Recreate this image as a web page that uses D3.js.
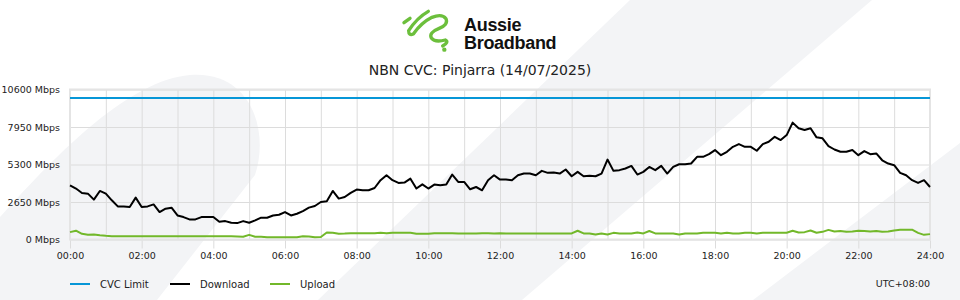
<!DOCTYPE html>
<html>
<head>
<meta charset="utf-8">
<script src="https://cdn.jsdelivr.net/npm/d3@7"></script>
<style>
    body { margin: 0; background: #ffffff; }
    svg { display: block; font-family: 'DejaVu Sans', sans-serif; }
</style>
</head>
<body>
<div id="chart"></div>
<script>
var title = 'NBN CVC: Pinjarra (14/07/2025)';
var timezone = 'UTC+08:00';
var stepMinutes = 10;
var cvcLimit = 10000;
var yTicks = [0, 2650, 5300, 7950, 10600];
var hourLines = d3.range(0, 25);
var xTickHours = [0, 2, 4, 6, 8, 10, 12, 14, 16, 18, 20, 22, 24];
var seriesNames = ['CVC Limit', 'Download', 'Upload'];

// Mbps, one reading every 10 minutes from 00:00 to 24:00
var download = [
    3830, 3600, 3290, 3240, 2815, 3430, 3240, 2770, 2340, 2340,
    2295, 2960, 2295, 2340, 2480, 1940, 2180, 2250, 1700, 1585,
    1420, 1420, 1585, 1585, 1585, 1250, 1300, 1180, 1160, 1300,
    1180, 1350, 1540, 1540, 1700, 1750, 1940, 1700, 1820, 2010,
    2250, 2365, 2650, 2700, 3430, 2890, 3000, 3290, 3525, 3480,
    3480, 3640, 4190, 4540, 4190, 4000, 4020, 4300, 3600, 3900,
    3600, 3880, 3830, 3880, 4590, 4070, 4070, 3550, 3710,
    3480, 4190, 4540, 4235, 4235, 4190, 4540, 4660, 4660, 4540,
    4850, 4710, 4730, 4660, 4945, 4470, 4780, 4470, 4500, 4470,
    4660, 5650, 4850, 4900, 5020, 5200, 4590, 4780, 5130, 4900,
    5200, 4660, 5130, 5320, 5320, 5370, 5840, 5840, 6030, 6320,
    5960, 6200, 6550, 6740, 6550, 6550, 6270, 6740, 6910, 7260,
    7030, 7380, 8260, 7860, 7740, 7860, 7220, 7150, 6600, 6360,
    6200, 6200, 6320, 5960, 6250, 6030, 6080, 5600, 5370, 5250,
    4710, 4540, 4190, 4000, 4190, 3710
];

var upload = [
    520, 620, 400, 330, 360, 300, 260, 234, 234, 234,
    234, 230, 234, 234, 234, 234, 230, 234, 234, 234,
    234, 234, 234, 234, 234, 234, 234, 230, 220, 190,
    330, 190, 200, 165, 165, 165, 165, 165, 165, 230,
    220, 165, 180, 500, 480, 400, 420, 450, 450, 450,
    450, 450, 470, 450, 470, 470, 470, 470, 400, 410,
    410, 450, 450, 450, 450, 420, 420, 420, 430,
    450, 450, 430, 450, 430, 430, 430, 430, 430, 430,
    430, 430, 430, 430, 430, 430, 620, 430, 430, 350,
    430, 350, 470, 430, 430, 430, 500, 430, 600, 430,
    430, 430, 430, 350, 430, 430, 430, 470, 470, 470,
    430, 470, 430, 430, 470, 470, 430, 470, 470, 470,
    470, 480, 620, 500, 520, 640, 480, 540, 680, 560,
    600, 540, 560, 620, 600, 560, 600, 540, 560, 640,
    690, 690, 690, 470, 330, 380
];

var width = 960, height = 300;
var blue = '#0696d7', black = '#000000', green = '#72b82a', logoGreen = '#6cbf3c';
var bgGrey = '#f3f4f6', gridGrey = '#dcdcdc', frameGrey = '#e4e4e4';
var textColor = '#222222';
var labelSize = '9.5px';

var svg = d3.select('#chart').append('svg')
    .attr('width', width)
    .attr('height', height);

// background decoration
var deco = svg.append('g');
deco.append('path')
    .attr('d', 'M0,217 C60,150 130,80 190,75 C250,70 270,130 255,175 L157,300 L0,300 Z')
    .attr('fill', bgGrey);
deco.append('path')
    .attr('d', 'M630,0 L872,0 L522,300 L318,300 Z')
    .attr('fill', bgGrey);
deco.append('path')
    .attr('d', 'M960,143 L960,300 L753,300 Z')
    .attr('fill', bgGrey);

// logo
var logo = svg.append('g').attr('transform', 'translate(396,6) scale(0.3333)');
logo.append('path')
    .attr('d', 'M24,50 L42,37')
    .attr('fill', 'none').attr('stroke', logoGreen)
    .attr('stroke-width', 10).attr('stroke-linecap', 'round');
logo.append('path')
    .attr('d', 'M97,16 Q62,36 38,74 Q38,90 52,84 Q76,50 108,34 Q138,22 150,38 Q158,56 128,68 Q98,80 106,96 Q116,110 148,102 Q160,108 140,120')
    .attr('fill', 'none').attr('stroke', logoGreen)
    .attr('stroke-width', 10).attr('stroke-linecap', 'round').attr('stroke-linejoin', 'round');
logo.append('circle')
    .attr('cx', 145).attr('cy', 131).attr('r', 6.5)
    .attr('fill', logoGreen);

['Aussie', 'Broadband'].forEach(function(word, i) {
    svg.append('text')
        .attr('x', 464).attr('y', 31 + i * 17.5)
        .style('font-family', "'Liberation Sans', Arial, sans-serif")
        .style('font-weight', 700).style('font-size', '18px')
        .style('letter-spacing', '-0.3px')
        .attr('fill', '#111')
        .text(word);
});

svg.append('text')
    .attr('x', width / 2).attr('y', 75)
    .attr('text-anchor', 'middle')
    .style('font-size', '14px')
    .attr('fill', textColor)
    .text(title);

// scales
var x = d3.scaleLinear().domain([0, 24 * 60]).range([70, 930]);
var y = d3.scaleLinear().domain([0, 10600]).range([239.5, 89.5]);

// hourly grid
var grid = svg.append('g')
    .attr('transform', 'translate(0,' + y(0) + ')')
    .call(d3.axisBottom(x)
        .tickValues(hourLines.map(function(h) { return h * 60; }))
        .tickSize(-(y(0) - y(10600)))
        .tickFormat(''));
grid.select('.domain').remove();
grid.selectAll('line').attr('stroke', gridGrey);

var hgrid = svg.append('g')
    .attr('transform', 'translate(70,0)')
    .call(d3.axisLeft(y).tickValues(yTicks).tickSize(-860).tickFormat(''));
hgrid.select('.domain').remove();
hgrid.selectAll('line').attr('stroke', gridGrey);

// frame
svg.append('rect')
    .attr('x', x(0)).attr('y', y(10600))
    .attr('width', x(1440) - x(0)).attr('height', y(0) - y(10600))
    .attr('fill', 'none')
    .attr('stroke', frameGrey)
    .attr('stroke-width', 2);

// x axis
var xAxis = svg.append('g')
    .attr('transform', 'translate(0,' + (y(0) + 1) + ')')
    .call(d3.axisBottom(x)
        .tickValues(xTickHours.map(function(h) { return h * 60; }))
        .tickSize(8)
        .tickPadding(4)
        .tickFormat(function(d) { return d3.format('02d')(d / 60) + ':00'; }));
xAxis.select('.domain').remove();
xAxis.selectAll('line').attr('stroke', gridGrey);
xAxis.selectAll('text')
    .style('font-family', "'DejaVu Sans', sans-serif")
    .style('font-size', labelSize)
    .attr('fill', textColor);

// y axis
var yAxis = svg.append('g')
    .attr('transform', 'translate(70,0)')
    .call(d3.axisLeft(y)
        .tickValues(yTicks)
        .tickSize(0)
        .tickPadding(10)
        .tickFormat(function(d) { return d + ' Mbps'; }));
yAxis.select('.domain').remove();
yAxis.selectAll('text')
    .style('font-family', "'DejaVu Sans', sans-serif")
    .style('font-size', labelSize)
    .attr('fill', textColor);

// series
var line = d3.line()
    .x(function(d, i) { return x(i * stepMinutes); })
    .y(function(d) { return y(d); });

svg.append('line')
    .attr('x1', x(0)).attr('x2', x(1440))
    .attr('y1', y(cvcLimit)).attr('y2', y(cvcLimit))
    .attr('stroke', blue)
    .attr('stroke-width', 2);

svg.append('path')
    .attr('d', line(upload))
    .attr('fill', 'none')
    .attr('stroke', green)
    .attr('stroke-width', 2)
    .attr('stroke-linejoin', 'round');

svg.append('path')
    .attr('d', line(download))
    .attr('fill', 'none')
    .attr('stroke', black)
    .attr('stroke-width', 2)
    .attr('stroke-linejoin', 'round');

// legend
var legendColors = [blue, black, green];
var legend = svg.append('g').attr('transform', 'translate(70,284)');
seriesNames.forEach(function(name, i) {
    var g = legend.append('g').attr('transform', 'translate(' + (i * 100) + ',0)');
    g.append('line')
        .attr('x1', 0).attr('x2', 20)
        .attr('stroke', legendColors[i])
        .attr('stroke-width', 2);
    g.append('text')
        .attr('x', 30).attr('dy', '0.35em')
        .style('font-size', '10px')
        .attr('fill', textColor)
        .text(name);
});

svg.append('text')
    .attr('x', 930).attr('y', 284).attr('dy', '0.35em')
    .attr('text-anchor', 'end')
    .style('font-size', labelSize)
    .attr('fill', textColor)
    .text(timezone);
</script>
</body>
</html>
